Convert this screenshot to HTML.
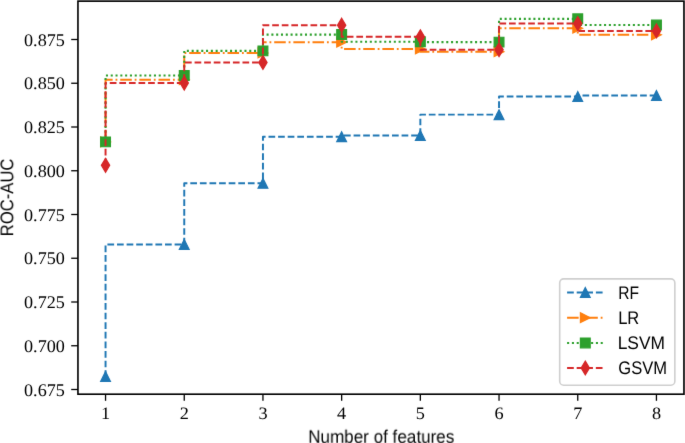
<!DOCTYPE html>
<html><head><meta charset="utf-8"><style>
html,body{margin:0;padding:0;background:#fff;width:685px;height:443px;overflow:hidden;}
svg{display:block;} text{text-rendering:geometricPrecision;}
#w{width:685px;height:443px;will-change:transform;}

</style></head><body><div id="w">
<svg width="685" height="443" viewBox="0 0 685 443">
<defs><filter id="bl" x="0" y="0" width="685" height="443" filterUnits="userSpaceOnUse" color-interpolation-filters="sRGB"><feConvolveMatrix order="3" kernelMatrix="0.00524 0.06192 0.00524 0.06192 0.73137 0.06192 0.00524 0.06192 0.00524" divisor="1" edgeMode="duplicate" preserveAlpha="true"/></filter></defs><g filter="url(#bl)"><rect width="685" height="443" fill="#fff"/><path d="M105.55,376.46 V244.42 H184.25 V183.3 H262.95 V136.7 H341.65 V135.4 H420.34 V114.64 H499.04 V96.55 H577.75 V95.5 H656.44" fill="none" stroke="#1f77b4" stroke-width="1.95" stroke-dasharray="6.7,2.9" stroke-dashoffset="0.5" stroke-linecap="butt" stroke-linejoin="round"/>
<polygon points="105.55,371.58 100.67,381.34 110.42,381.34" fill="#1f77b4" stroke="#1f77b4" stroke-width="1.22" stroke-linejoin="miter"/>
<polygon points="184.25,239.54 179.37,249.3 189.12,249.3" fill="#1f77b4" stroke="#1f77b4" stroke-width="1.22" stroke-linejoin="miter"/>
<polygon points="262.95,178.42 258.07,188.18 267.83,188.18" fill="#1f77b4" stroke="#1f77b4" stroke-width="1.22" stroke-linejoin="miter"/>
<polygon points="341.65,131.82 336.77,141.58 346.53,141.58" fill="#1f77b4" stroke="#1f77b4" stroke-width="1.22" stroke-linejoin="miter"/>
<polygon points="420.34,130.52 415.46,140.28 425.22,140.28" fill="#1f77b4" stroke="#1f77b4" stroke-width="1.22" stroke-linejoin="miter"/>
<polygon points="499.04,109.76 494.16,119.52 503.92,119.52" fill="#1f77b4" stroke="#1f77b4" stroke-width="1.22" stroke-linejoin="miter"/>
<polygon points="577.75,91.67 572.87,101.43 582.62,101.43" fill="#1f77b4" stroke="#1f77b4" stroke-width="1.22" stroke-linejoin="miter"/>
<polygon points="656.44,90.62 651.56,100.38 661.32,100.38" fill="#1f77b4" stroke="#1f77b4" stroke-width="1.22" stroke-linejoin="miter"/>
<path d="M105.55,141.88 V79.75 H184.25 V52.98 H262.95 V42.23 H341.65 V48.95 H420.34 V51.75 H499.04 V28.23 H577.75 V34.77 H656.44" fill="none" stroke="#ff7f0e" stroke-width="1.95" stroke-dasharray="11.56,2.89,1.81,2.89" stroke-dashoffset="-0.2" stroke-linecap="butt" stroke-linejoin="round"/>
<polygon points="110.42,141.88 100.67,137 100.67,146.75" fill="#ff7f0e" stroke="#ff7f0e" stroke-width="1.22" stroke-linejoin="miter"/>
<polygon points="189.12,79.75 179.37,74.87 179.37,84.63" fill="#ff7f0e" stroke="#ff7f0e" stroke-width="1.22" stroke-linejoin="miter"/>
<polygon points="267.83,52.98 258.07,48.1 258.07,57.86" fill="#ff7f0e" stroke="#ff7f0e" stroke-width="1.22" stroke-linejoin="miter"/>
<polygon points="346.53,42.23 336.77,37.35 336.77,47.11" fill="#ff7f0e" stroke="#ff7f0e" stroke-width="1.22" stroke-linejoin="miter"/>
<polygon points="425.22,48.95 415.46,44.07 415.46,53.83" fill="#ff7f0e" stroke="#ff7f0e" stroke-width="1.22" stroke-linejoin="miter"/>
<polygon points="503.92,51.75 494.16,46.87 494.16,56.63" fill="#ff7f0e" stroke="#ff7f0e" stroke-width="1.22" stroke-linejoin="miter"/>
<polygon points="582.62,28.23 572.87,23.35 572.87,33.11" fill="#ff7f0e" stroke="#ff7f0e" stroke-width="1.22" stroke-linejoin="miter"/>
<polygon points="661.32,34.77 651.56,29.89 651.56,39.65" fill="#ff7f0e" stroke="#ff7f0e" stroke-width="1.22" stroke-linejoin="miter"/>
<path d="M105.55,141.88 V75.55 H184.25 V50.87 H262.95 V34.6 H341.65 V41.77 H420.34 V42.12 H499.04 V18.85 H577.75 V24.98 H656.44" fill="none" stroke="#2ca02c" stroke-width="2.05" stroke-dasharray="2.05,2.75" stroke-dashoffset="0.5" stroke-linecap="butt" stroke-linejoin="round"/>
<polygon points="100.67,137 110.42,137 110.42,146.75 100.67,146.75" fill="#2ca02c" stroke="#2ca02c" stroke-width="1.22" stroke-linejoin="miter"/>
<polygon points="179.37,70.67 189.12,70.67 189.12,80.43 179.37,80.43" fill="#2ca02c" stroke="#2ca02c" stroke-width="1.22" stroke-linejoin="miter"/>
<polygon points="258.07,45.99 267.83,45.99 267.83,55.75 258.07,55.75" fill="#2ca02c" stroke="#2ca02c" stroke-width="1.22" stroke-linejoin="miter"/>
<polygon points="336.77,29.72 346.53,29.72 346.53,39.48 336.77,39.48" fill="#2ca02c" stroke="#2ca02c" stroke-width="1.22" stroke-linejoin="miter"/>
<polygon points="415.46,36.89 425.22,36.89 425.22,46.65 415.46,46.65" fill="#2ca02c" stroke="#2ca02c" stroke-width="1.22" stroke-linejoin="miter"/>
<polygon points="494.16,37.24 503.92,37.24 503.92,47 494.16,47" fill="#2ca02c" stroke="#2ca02c" stroke-width="1.22" stroke-linejoin="miter"/>
<polygon points="572.87,13.97 582.62,13.97 582.62,23.73 572.87,23.73" fill="#2ca02c" stroke="#2ca02c" stroke-width="1.22" stroke-linejoin="miter"/>
<polygon points="651.56,20.1 661.32,20.1 661.32,29.86 651.56,29.86" fill="#2ca02c" stroke="#2ca02c" stroke-width="1.22" stroke-linejoin="miter"/>
<path d="M105.55,165.32 V83.08 H184.25 V62.5 H262.95 V25.15 H341.65 V36.77 H420.34 V49.65 H499.04 V23.58 H577.75 V30.92 H656.44" fill="none" stroke="#d62728" stroke-width="1.95" stroke-dasharray="6.69,2.89" stroke-dashoffset="-0.25" stroke-linecap="butt" stroke-linejoin="round"/>
<polygon points="105.55,158.42 109.69,165.32 105.55,172.23 101.4,165.32" fill="#d62728" stroke="#d62728" stroke-width="1.22" stroke-linejoin="miter"/>
<polygon points="184.25,76.17 188.39,83.08 184.25,89.98 180.1,83.08" fill="#d62728" stroke="#d62728" stroke-width="1.22" stroke-linejoin="miter"/>
<polygon points="262.95,55.59 267.09,62.5 262.95,69.4 258.8,62.5" fill="#d62728" stroke="#d62728" stroke-width="1.22" stroke-linejoin="miter"/>
<polygon points="341.65,18.25 345.79,25.15 341.65,32.05 337.5,25.15" fill="#d62728" stroke="#d62728" stroke-width="1.22" stroke-linejoin="miter"/>
<polygon points="420.34,29.87 424.49,36.77 420.34,43.67 416.2,36.77" fill="#d62728" stroke="#d62728" stroke-width="1.22" stroke-linejoin="miter"/>
<polygon points="499.04,42.75 503.19,49.65 499.04,56.55 494.9,49.65" fill="#d62728" stroke="#d62728" stroke-width="1.22" stroke-linejoin="miter"/>
<polygon points="577.75,16.67 581.89,23.58 577.75,30.48 573.6,23.58" fill="#d62728" stroke="#d62728" stroke-width="1.22" stroke-linejoin="miter"/>
<polygon points="656.44,24.02 660.59,30.92 656.44,37.83 652.3,30.92" fill="#d62728" stroke="#d62728" stroke-width="1.22" stroke-linejoin="miter"/>
<g stroke="#000" stroke-width="1.3"><line x1="105.55" y1="394.0" x2="105.55" y2="400.8"/><line x1="184.25" y1="394.0" x2="184.25" y2="400.8"/><line x1="262.95" y1="394.0" x2="262.95" y2="400.8"/><line x1="341.65" y1="394.0" x2="341.65" y2="400.8"/><line x1="420.34" y1="394.0" x2="420.34" y2="400.8"/><line x1="499.04" y1="394.0" x2="499.04" y2="400.8"/><line x1="577.75" y1="394.0" x2="577.75" y2="400.8"/><line x1="656.44" y1="394.0" x2="656.44" y2="400.8"/><line x1="71.2" y1="389.5" x2="78.0" y2="389.5"/><line x1="71.2" y1="345.75" x2="78.0" y2="345.75"/><line x1="71.2" y1="302" x2="78.0" y2="302"/><line x1="71.2" y1="258.25" x2="78.0" y2="258.25"/><line x1="71.2" y1="214.5" x2="78.0" y2="214.5"/><line x1="71.2" y1="170.75" x2="78.0" y2="170.75"/><line x1="71.2" y1="127" x2="78.0" y2="127"/><line x1="71.2" y1="83.25" x2="78.0" y2="83.25"/><line x1="71.2" y1="39.5" x2="78.0" y2="39.5"/></g>
<rect x="77.95" y="1.15" width="606" height="393.05" fill="none" stroke="#000" stroke-width="1.62" stroke-linejoin="miter"/>
<g fill="#000"><text transform="translate(64.85,395.6) scale(1.02,1)" text-anchor="end" font-family="'Liberation Serif', serif" font-size="17.8">0.675</text><text transform="translate(64.85,351.85) scale(1.02,1)" text-anchor="end" font-family="'Liberation Serif', serif" font-size="17.8">0.700</text><text transform="translate(64.85,308.1) scale(1.02,1)" text-anchor="end" font-family="'Liberation Serif', serif" font-size="17.8">0.725</text><text transform="translate(64.85,264.35) scale(1.02,1)" text-anchor="end" font-family="'Liberation Serif', serif" font-size="17.8">0.750</text><text transform="translate(64.85,220.6) scale(1.02,1)" text-anchor="end" font-family="'Liberation Serif', serif" font-size="17.8">0.775</text><text transform="translate(64.85,176.85) scale(1.02,1)" text-anchor="end" font-family="'Liberation Serif', serif" font-size="17.8">0.800</text><text transform="translate(64.85,133.1) scale(1.02,1)" text-anchor="end" font-family="'Liberation Serif', serif" font-size="17.8">0.825</text><text transform="translate(64.85,89.35) scale(1.02,1)" text-anchor="end" font-family="'Liberation Serif', serif" font-size="17.8">0.850</text><text transform="translate(64.85,45.6) scale(1.02,1)" text-anchor="end" font-family="'Liberation Serif', serif" font-size="17.8">0.875</text><text transform="translate(105.55,419.4) scale(1.05,1)" text-anchor="middle" font-family="'Liberation Serif', serif" font-size="17.4">1</text><text transform="translate(184.25,419.4) scale(1.05,1)" text-anchor="middle" font-family="'Liberation Serif', serif" font-size="17.4">2</text><text transform="translate(262.95,419.4) scale(1.05,1)" text-anchor="middle" font-family="'Liberation Serif', serif" font-size="17.4">3</text><text transform="translate(341.65,419.4) scale(1.05,1)" text-anchor="middle" font-family="'Liberation Serif', serif" font-size="17.4">4</text><text transform="translate(420.34,419.4) scale(1.05,1)" text-anchor="middle" font-family="'Liberation Serif', serif" font-size="17.4">5</text><text transform="translate(499.04,419.4) scale(1.05,1)" text-anchor="middle" font-family="'Liberation Serif', serif" font-size="17.4">6</text><text transform="translate(577.75,419.4) scale(1.05,1)" text-anchor="middle" font-family="'Liberation Serif', serif" font-size="17.4">7</text><text transform="translate(656.44,419.4) scale(1.05,1)" text-anchor="middle" font-family="'Liberation Serif', serif" font-size="17.4">8</text></g>
<text transform="translate(381.2,442.7) scale(0.939,1)" text-anchor="middle" font-family="'Liberation Sans', sans-serif" font-size="18.2">Number of features</text>
<text transform="translate(13.2,197.4) rotate(-90) scale(0.915,1)" text-anchor="middle" font-family="'Liberation Sans', sans-serif" font-size="18.2">ROC-AUC</text>
<rect x="559.7" y="278.9" width="115.15" height="106.3" rx="4" ry="4" fill="#fff" fill-opacity="0.8" stroke="#cfcfcf" stroke-width="1.6"/>
<path d="M567.1,292.4 H602.9" stroke="#1f77b4" stroke-width="1.95" stroke-dasharray="6.7,2.9" fill="none"/>
<polygon points="585.3,287.52 580.42,297.28 590.18,297.28" fill="#1f77b4" stroke="#1f77b4" stroke-width="1.22" stroke-linejoin="miter"/>
<text transform="translate(618.22,298.7) scale(0.8576,1)" text-anchor="start" font-family="'Liberation Sans', sans-serif" font-size="18.2">RF</text>
<path d="M567.1,317.7 H602.9" stroke="#ff7f0e" stroke-width="1.95" stroke-dasharray="11.56,2.89,1.81,2.89" fill="none"/>
<polygon points="590.18,317.7 580.42,312.82 580.42,322.58" fill="#ff7f0e" stroke="#ff7f0e" stroke-width="1.22" stroke-linejoin="miter"/>
<text transform="translate(618.14,324) scale(0.9079,1)" text-anchor="start" font-family="'Liberation Sans', sans-serif" font-size="18.2">LR</text>
<path d="M567.1,342.9 H602.9" stroke="#2ca02c" stroke-width="2.05" stroke-dasharray="2.05,2.75" fill="none"/>
<polygon points="580.42,338.02 590.18,338.02 590.18,347.78 580.42,347.78" fill="#2ca02c" stroke="#2ca02c" stroke-width="1.22" stroke-linejoin="miter"/>
<text transform="translate(617.67,349.2) scale(0.9554,1)" text-anchor="start" font-family="'Liberation Sans', sans-serif" font-size="18.2">LSVM</text>
<path d="M567.1,368.0 H602.9" stroke="#d62728" stroke-width="1.95" stroke-dasharray="6.69,2.89" fill="none"/>
<polygon points="585.3,361.1 589.44,368 585.3,374.9 581.16,368" fill="#d62728" stroke="#d62728" stroke-width="1.22" stroke-linejoin="miter"/>
<text transform="translate(618.27,374.3) scale(0.9104,1)" text-anchor="start" font-family="'Liberation Sans', sans-serif" font-size="18.2">GSVM</text></g>
</svg>
</div></body></html>
